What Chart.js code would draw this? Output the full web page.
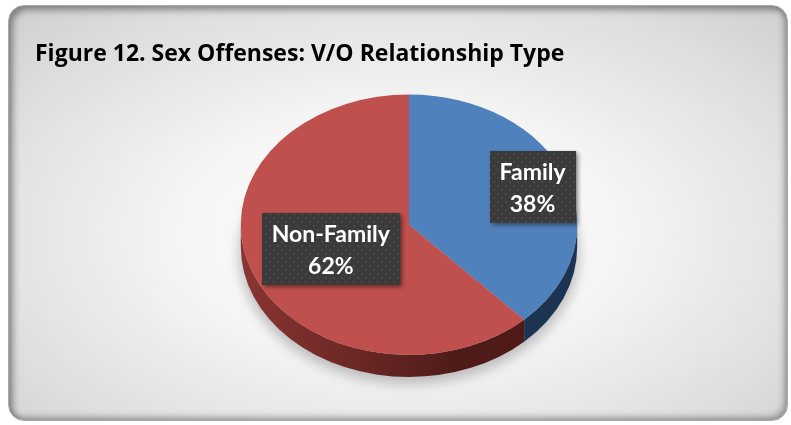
<!DOCTYPE html>
<html>
<head>
<meta charset="utf-8">
<script src="https://cdn.jsdelivr.net/npm/chart.js@4.4.1/dist/chart.umd.min.js"></script>
<style>
  html, body { margin: 0; padding: 0; background: #fff; overflow: hidden; }
  #frame {
    position: absolute; left: 8px; top: 5px; width: 778px; height: 414px;
    border: 1px solid #a9a9a9; border-radius: 16px;
    background: radial-gradient(ellipse 70% 75% at 50% 55%, #ffffff 0%, #f5f5f5 40%, #dedede 80%, #d0d0d0 100%);
    box-shadow: inset 4px 4px 7px rgba(0,0,0,0.38), inset -3px -3px 6px rgba(0,0,0,0.3);
  }
  #wrap { position: absolute; left: 0; top: 0; width: 791px; height: 431px; }
</style>
</head>
<body>
<div id="frame"></div>
<div id="wrap"><canvas id="myChart" width="791" height="431"></canvas></div>
<script>
var labels = ["Family", "Non-Family"];
var shares = [38, 62];
var topColors = ["#4f81bd", "#c0504d"];
var sideColors = [["#2a4a72", "#1c3452"], ["#8a3532", "#4e1b19"]];

// label placement along each slice's middle angle (fraction of radius)
var labelDist = [0.79, 0.5];
var squash = 130 / 168; // how flat the pie looks
var depth = 22;

var ctx = document.getElementById('myChart');

function dotPattern(c) {
  var p = document.createElement('canvas');
  p.width = 8; p.height = 8;
  var g = p.getContext('2d');
  g.fillStyle = '#3a3a3a';
  g.fillRect(0, 0, 8, 8);
  g.fillStyle = '#4a4a4a';
  g.beginPath(); g.arc(2, 2, 1.2, 0, Math.PI * 2); g.fill();
  g.beginPath(); g.arc(6, 6, 1.2, 0, Math.PI * 2); g.fill();
  return c.createPattern(p, 'repeat');
}

// turns the flat pie into a tilted 3d-looking one
var tiltPlugin = {
  id: 'tilt',
  beforeDatasetsDraw: function(chart) {
    var c = chart.ctx;
    var top = chart.chartArea.top;
    var arcs = chart.getDatasetMeta(0).data;
    c.save();
    // soft shadow under the whole pie
    var a0 = arcs[0];
    var cx = a0.x, cy = top + (a0.y - top) * squash;
    var rx = a0.outerRadius, ry = rx * squash;
    c.fillStyle = 'rgba(0,0,0,0.22)';
    c.filter = 'blur(6px)';
    c.beginPath();
    c.ellipse(cx, cy + depth + 7, rx + 2, ry, 0, 0, Math.PI * 2);
    c.fill();
    c.filter = 'none';
    // side walls, only the front half is visible
    arcs.forEach(function(arc, i) {
      var s = Math.max(arc.startAngle, 0);
      var e = Math.min(arc.endAngle, Math.PI);
      if (e <= s) return;
      var grad = c.createLinearGradient(cx - rx, 0, cx + rx * 0.3, 0);
      grad.addColorStop(0, sideColors[i][0]);
      grad.addColorStop(1, sideColors[i][1]);
      c.fillStyle = grad;
      c.beginPath();
      c.ellipse(cx, cy, rx, ry, 0, s, e);
      c.ellipse(cx, cy + depth, rx, ry, 0, e, s, true);
      c.closePath();
      c.fill();
    });
    c.restore();
    c.save();
    c.translate(0, top);
    c.scale(1, squash);
    c.translate(0, -top);
  },
  afterDatasetsDraw: function(chart) {
    var c = chart.ctx;
    c.restore();
    var top = chart.chartArea.top;
    var arcs = chart.getDatasetMeta(0).data;
    var pat = dotPattern(c);
    c.save();
    c.font = 'bold 23px Lato';
    c.textAlign = 'center';
    c.textBaseline = 'alphabetic';
    arcs.forEach(function(arc, i) {
      var mid = (arc.startAngle + arc.endAngle) / 2;
      var lx = arc.x + Math.cos(mid) * arc.outerRadius * labelDist[i];
      var ly = top + (arc.y + Math.sin(mid) * arc.outerRadius * labelDist[i] - top) * squash;
      var total = shares.reduce(function(a, b) { return a + b; }, 0);
      var lines = [labels[i], Math.round(shares[i] / total * 100) + '%'];
      var w = Math.max(c.measureText(lines[0]).width, c.measureText(lines[1]).width) + 20;
      var h = 72;
      var bx = Math.round(lx - w / 2), by = Math.round(ly - h / 2);
      c.shadowColor = 'rgba(0,0,0,0.45)';
      c.shadowBlur = 4;
      c.shadowOffsetX = 2;
      c.shadowOffsetY = 2;
      c.fillStyle = pat;
      c.fillRect(bx, by, w, h);
      c.shadowColor = 'transparent';
      c.fillStyle = '#ffffff';
      c.fillText(lines[0], lx, by + 29);
      c.fillText(lines[1], lx, by + 61);
    });
    c.restore();
  }
};

var myChart = new Chart(ctx, {
  type: 'pie',
  data: {
    labels: labels,
    datasets: [{
      data: shares,
      backgroundColor: topColors,
      borderWidth: 0
    }]
  },
  options: {
    responsive: false,
    animation: false,
    layout: { padding: { left: 35, right: 8, top: 41, bottom: 0 } },
    plugins: {
      legend: { display: false },
      tooltip: { enabled: false },
      title: {
        display: true,
        text: 'Figure 12. Sex Offenses: V/O Relationship Type',
        align: 'start',
        color: '#000',
        font: { family: 'Open Sans', size: 23, weight: 'bold', lineHeight: 1.2 },
        padding: { top: 0, bottom: 26 }
      }
    }
  },
  plugins: [tiltPlugin]
});
</script>
</body>
</html>
